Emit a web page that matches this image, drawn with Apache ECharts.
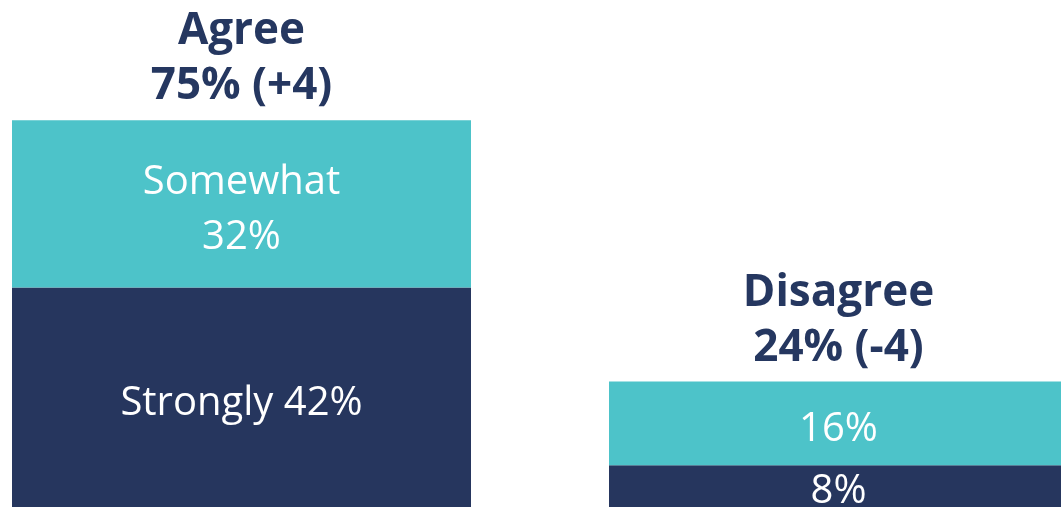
<!DOCTYPE html>
<html>
<head>
<meta charset="utf-8">
<script src="https://cdn.jsdelivr.net/npm/echarts@6/dist/echarts.min.js"></script>
<style>
  html, body { margin: 0; padding: 0; background: #fff; overflow: hidden; width: 1061px; height: 507px; }
  /* chart is wider than the window so the right bar runs off the edge like the slide */
  #main { width: 1194px; height: 507px; margin-left: -57px; }
</style>
</head>
<body>
<div id="main"></div>
<script>
// data
var categories = ['Agree', 'Disagree'];
var strongly = [42, 8];
var somewhat = [32, 16];
var totalLabels = ['75% (+4)', '24% (-4)'];
var stronglyLabels = ['Strongly 42%', '8%'];
var somewhatLabels = ['Somewhat\n32%', '16%'];

var navy = '#26365E';
var teal = '#4DC3C9';
var font = '"Open Sans", "Noto Sans", sans-serif';

var myChart = echarts.init(document.getElementById('main'));

myChart.setOption({
  animation: false,
  grid: { left: 0, right: 0, top: 0, bottom: 0 },
  xAxis: {
    type: 'category',
    data: categories,
    show: false
  },
  yAxis: {
    type: 'value',
    min: 0,
    max: 97,
    show: false
  },
  series: [{
    name: 'Strongly',
    type: 'bar',
    stack: 'total',
    barWidth: 459,
    itemStyle: { color: navy },
    label: {
      show: true,
      position: 'inside',
      offset: [0, 6],
      color: '#fff',
      fontFamily: font,
      fontSize: 40,
      lineHeight: 55,
      formatter: function (p) { return stronglyLabels[p.dataIndex] }
    },
    data: strongly
  }, {
    name: 'Somewhat',
    type: 'bar',
    stack: 'total',
    barWidth: 459,
    itemStyle: { color: teal },
    label: {
      show: true,
      position: 'inside',
      offset: [0, 6],
      color: '#fff',
      fontFamily: font,
      fontSize: 40,
      lineHeight: 55,
      formatter: function (p) { return somewhatLabels[p.dataIndex] }
    },
    data: somewhat
  }, {
    // zero-height bar only used to carry the total label on top
    name: 'Total',
    type: 'bar',
    stack: 'total',
    barWidth: 459,
    itemStyle: { color: 'transparent' },
    label: {
      show: true,
      position: 'top',
      distance: 6,
      color: '#253760',
      fontFamily: font,
      fontWeight: 'bold',
      fontSize: 44,
      lineHeight: 55,
      formatter: function (p) { return categories[p.dataIndex] + '\n' + totalLabels[p.dataIndex] }
    },
    data: [0, 0]
  }]
});
</script>
</body>
</html>
